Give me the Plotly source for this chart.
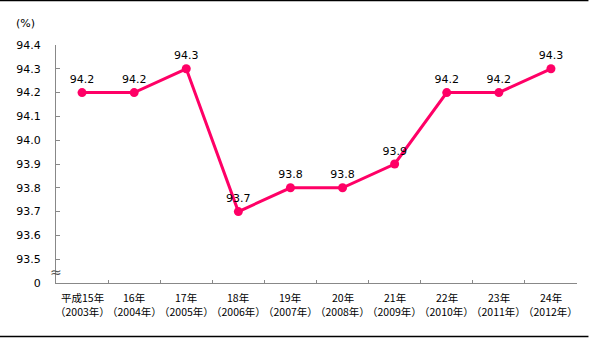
import plotly.graph_objects as go

categories = ["平成15年", "16年", "17年", "18年", "19年", "20年", "21年", "22年", "23年", "24年"]
years = ["（2003年）", "（2004年）", "（2005年）", "（2006年）", "（2007年）",
         "（2008年）", "（2009年）", "（2010年）", "（2011年）", "（2012年）"]
values = [94.2, 94.2, 94.3, 93.7, 93.8, 93.8, 93.9, 94.2, 94.2, 94.3]
ytick_vals = [93.4, 93.5, 93.6, 93.7, 93.8, 93.9, 94.0, 94.1, 94.2, 94.3, 94.4]
ytick_text = ["0", "93.5", "93.6", "93.7", "93.8", "93.9", "94.0", "94.1", "94.2", "94.3", "94.4"]

color = "#FF0066"
font_num = "DejaVu Sans"
font_cjk = "Noto Sans CJK JP"

fig = go.Figure()
fig.add_trace(go.Scatter(
    x=categories, y=values,
    mode="lines+markers+text",
    line=dict(color=color, width=3),
    marker=dict(color=color, size=9),
    text=[f"{v:.1f}" for v in values],
    textposition="top center",
    textfont=dict(family=font_num, size=11, color="#000"),
    cliponaxis=False,
    hoverinfo="skip",
))

annotations = [
    dict(text="(%)", x=-0.058, y=1.09, xref="paper", yref="paper",
         showarrow=False, font=dict(family=font_num, size=11, color="#000"),
         xanchor="center", yanchor="middle"),
    dict(text="≈", x=0, y=93.445, xref="paper", yref="y",
         showarrow=False, font=dict(family=font_num, size=14, color="#555"),
         xanchor="center", yanchor="middle"),
]
for c, yr in zip(categories, years):
    annotations.append(dict(text=c, x=c, y=(283 - 297) / 238, xref="x", yref="paper",
                            showarrow=False, font=dict(family=font_cjk, size=10.5, color="#000"),
                            xanchor="center", yanchor="middle"))
    annotations.append(dict(text=yr, x=c, y=(283 - 311) / 238, xref="x", yref="paper",
                            showarrow=False, font=dict(family=font_cjk, size=10.5, color="#000"),
                            xanchor="center", yanchor="middle"))

fig.update_layout(
    width=592, height=338,
    margin=dict(l=56, r=15, t=45, b=55),
    paper_bgcolor="white", plot_bgcolor="white",
    showlegend=False,
    xaxis=dict(
        type="category",
        range=[-0.5, 9.5],
        tickson="boundaries",
        showticklabels=False,
        automargin=False,
        showgrid=False, zeroline=False,
        showline=True, linecolor="#888", linewidth=1,
        ticks="inside", ticklen=3, tickcolor="#888",
        fixedrange=True,
    ),
    yaxis=dict(
        range=[93.4, 94.4],
        tickmode="array", tickvals=ytick_vals, ticktext=ytick_text,
        automargin=False,
        showgrid=False, zeroline=False,
        showline=True, linecolor="#888", linewidth=1,
        ticks="inside", ticklen=4, tickcolor="#888",
        tickfont=dict(family=font_num, size=11, color="#000"),
        ticklabelstandoff=12,
        fixedrange=True,
    ),
    annotations=annotations,
    shapes=[
        dict(type="line", xref="paper", yref="paper", x0=-0.11, x1=1.022,
             y0=(283 - 0.5) / 238, y1=(283 - 0.5) / 238, line=dict(color="#000", width=1.5)),
        dict(type="line", xref="paper", yref="paper", x0=-0.11, x1=1.022,
             y0=(283 - 336.5) / 238, y1=(283 - 336.5) / 238, line=dict(color="#000", width=1.5)),
    ],
)

fig.write_html("out.html")
